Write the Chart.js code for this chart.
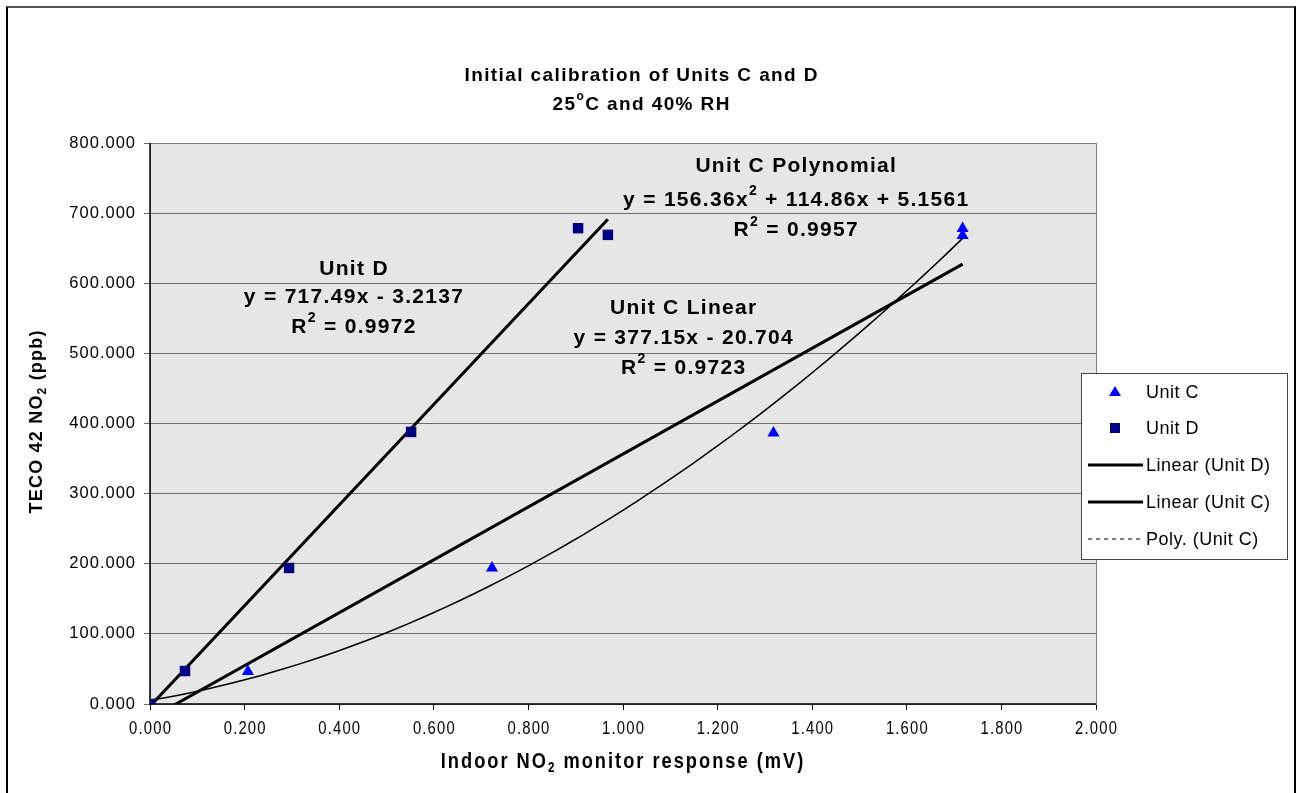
<!DOCTYPE html>
<html>
<head>
<meta charset="utf-8">
<script src="https://cdn.jsdelivr.net/npm/chart.js@4.4.1/dist/chart.umd.min.js"></script>
<style>
  html, body { margin: 0; padding: 0; background: #fff; }
  #wrap { position: relative; width: 1298px; height: 793px; overflow: hidden; }
  #frame { position: absolute; left: 6px; top: 6px; width: 1286px; height: 800px;
           border-left: 2px solid #000; border-right: 2px solid #000; border-top: 2px solid #555; }
  canvas { position: absolute; left: 0; top: 0; }
</style>
</head>
<body>
<div id="wrap">
  <div id="frame"></div>
  <canvas id="c" width="1298" height="793"></canvas>
</div>
<script>
// ---- data ----
const unitCX = [0.000, 0.207, 0.723, 1.318, 1.718, 1.718];
const unitCY = [0.0, 46.5, 194.0, 386.5, 678.0, 668.0];
const unitDX = [0.000, 0.074, 0.294, 0.552, 0.905, 0.968];
const unitDY = [0.0, 47.0, 194.0, 388.0, 678.5, 669.0];

// trendline coefficients as printed on the chart
const linDCoef = [717.49, -3.2137];            // y = a x + b
const linCCoef = [377.15, -20.704];            // y = a x + b
const polyCCoef = [156.36, 114.86, 5.1561];    // y = a x^2 + b x + c

const xTickLabels = ['0.000','0.200','0.400','0.600','0.800','1.000','1.200','1.400','1.600','1.800','2.000'];
const yTickLabels = ['0.000','100.000','200.000','300.000','400.000','500.000','600.000','700.000','800.000'];

const legendLabels = ['Unit C', 'Unit D', 'Linear (Unit D)', 'Linear (Unit C)', 'Poly. (Unit C)'];

// ---- build series ----
const ptsC = unitCX.map((x, i) => ({ x, y: unitCY[i] }));
const ptsD = unitDX.map((x, i) => ({ x, y: unitDY[i] }));
function linePts(coef, x0, x1) {
  return [{ x: x0, y: coef[0] * x0 + coef[1] }, { x: x1, y: coef[0] * x1 + coef[1] }];
}
const xMaxD = Math.max(...unitDX), xMaxC = Math.max(...unitCX);
const trendD = linePts(linDCoef, 0, xMaxD);
const trendC = linePts(linCCoef, 0, xMaxC);
const polyC = [];
for (let k = 0; k <= 60; k++) {
  const x = xMaxC * k / 60;
  polyC.push({ x, y: polyCCoef[0] * x * x + polyCCoef[1] * x + polyCCoef[2] });
}

const FONT = '"Liberation Sans", Arial, sans-serif';

// rich text helper: segments [text, mode] where mode: 'n', 'sup', 'sub'
function richWidth(ctx, segs, size, weight) {
  let w = 0;
  for (const [t, m] of segs) {
    ctx.font = `${weight} ${m === 'n' ? size : Math.round(size * 0.65)}px ${FONT}`;
    w += ctx.measureText(t).width;
  }
  return w;
}
function drawRich(ctx, segs, cx, cy, size, weight, spacing, scaleX) {
  ctx.save();
  ctx.letterSpacing = (spacing || 0) + 'px';
  const sc = scaleX || 1;
  ctx.translate(cx, cy);
  ctx.scale(sc, 1);
  const w = richWidth(ctx, segs, size, weight) - (spacing || 0);
  let x = -w / 2;
  ctx.textBaseline = 'middle';
  ctx.textAlign = 'left';
  ctx.fillStyle = '#000';
  for (const [t, m] of segs) {
    const s = m === 'n' ? size : Math.round(size * 0.65);
    ctx.font = `${weight} ${s}px ${FONT}`;
    const dy = m === 'sup' ? -size * 0.42 : (m === 'sub' ? size * 0.3 : 0);
    ctx.fillText(t, x, dy);
    x += ctx.measureText(t).width;
  }
  ctx.restore();
}

const decorPlugin = {
  id: 'decor',
  beforeDraw(chart) {
    const { ctx, chartArea: a } = chart;
    ctx.save();
    ctx.fillStyle = '#e6e6e6';
    ctx.fillRect(a.left, a.top, a.right - a.left, a.bottom - a.top);
    ctx.restore();
  },
  afterDraw(chart) {
    const { ctx, chartArea: a, scales } = chart;
    const sx = scales.x, sy = scales.y;
    // plot border
    ctx.save();
    ctx.strokeStyle = '#808080';
    ctx.lineWidth = 1;
    ctx.strokeRect(a.left + 0.5, a.top + 0.5, a.right - a.left, a.bottom - a.top);
    ctx.strokeStyle = '#000';
    ctx.lineWidth = 1.5;
    ctx.beginPath();
    ctx.moveTo(a.left, a.top); ctx.lineTo(a.left, a.bottom); ctx.lineTo(a.right, a.bottom);
    ctx.stroke();
    ctx.restore();

    // tick labels (positions from the library's scales)
    ctx.save();
    ctx.fillStyle = '#000';
    ctx.textBaseline = 'middle';
    ctx.textAlign = 'right';
    ctx.font = `16.5px ${FONT}`;
    ctx.letterSpacing = '1px';
    sy.ticks.forEach((t, i) => {
      ctx.fillText(yTickLabels[i], 136, sy.getPixelForValue(t.value));
    });
    ctx.restore();
    sx.ticks.forEach((t, i) => {
      drawRich(ctx, [[xTickLabels[i], 'n']], sx.getPixelForValue(t.value), 729, 19, 'normal', 1.5, 0.78);
    });

    // title
    drawRich(ctx, [['Initial calibration of Units C and D', 'n']], 641, 76, 19, 'bold', 1.4);
    drawRich(ctx, [['25', 'n'], ['o', 'sup'], ['C and 40% RH', 'n']], 641, 105, 19, 'bold', 1.4);

    // axis titles
    drawRich(ctx, [['Indoor NO', 'n'], ['2', 'sub'], [' monitor response (mV)', 'n']], 622, 762, 22, 'bold', 2.4, 0.83);
    ctx.save();
    ctx.translate(37, 422);
    ctx.rotate(-Math.PI / 2);
    drawRich(ctx, [['TECO 42 NO', 'n'], ['2', 'sub'], [' (ppb)', 'n']], 0, 0, 18, 'bold', 1.2);
    ctx.restore();

    // trendline annotations (anchored in data space)
    const ann = [
      [0.430, 620, [['Unit D', 'n']]],
      [0.430, 580, [['y = 717.49x - 3.2137', 'n']]],
      [0.430, 537, [['R', 'n'], ['2', 'sup'], [' = 0.9972', 'n']]],
      [1.365, 767, [['Unit C Polynomial', 'n']]],
      [1.365, 719, [['y = 156.36x', 'n'], ['2', 'sup'], [' + 114.86x + 5.1561', 'n']]],
      [1.365, 675, [['R', 'n'], ['2', 'sup'], [' = 0.9957', 'n']]],
      [1.127, 565, [['Unit C Linear', 'n']]],
      [1.127, 522, [['y = 377.15x - 20.704', 'n']]],
      [1.127, 479, [['R', 'n'], ['2', 'sup'], [' = 0.9723', 'n']]]
    ];
    for (const [x, y, segs] of ann) {
      drawRich(ctx, segs, sx.getPixelForValue(x), sy.getPixelForValue(y), 21, 'bold', 1.3);
    }

    // legend
    const L = { x: 1081, y: 373, w: 206, h: 186 };
    ctx.save();
    ctx.fillStyle = '#fff';
    ctx.fillRect(L.x, L.y, L.w, L.h);
    ctx.strokeStyle = '#444';
    ctx.lineWidth = 1;
    ctx.strokeRect(L.x + 0.5, L.y + 0.5, L.w, L.h);
    const rowsY = [392, 428, 465, 502, 539];
    ctx.font = `18px ${FONT}`;
    ctx.textBaseline = 'middle';
    ctx.fillStyle = '#000';
    ctx.letterSpacing = '0.5px';
    legendLabels.forEach((lab, i) => {
      const yy = rowsY[i];
      if (i === 0) {
        ctx.fillStyle = '#0000ff';
        ctx.beginPath();
        ctx.moveTo(1115, yy - 6); ctx.lineTo(1121, yy + 4); ctx.lineTo(1109, yy + 4); ctx.closePath();
        ctx.fill();
      } else if (i === 1) {
        ctx.fillStyle = '#000080';
        ctx.fillRect(1110, yy - 5, 10, 10);
      } else {
        ctx.strokeStyle = '#000';
        ctx.lineWidth = i === 4 ? 1.2 : 3;
        ctx.setLineDash(i === 4 ? [4, 4] : []);
        ctx.beginPath();
        ctx.moveTo(1088, yy); ctx.lineTo(1143, yy);
        ctx.stroke();
        ctx.setLineDash([]);
      }
      ctx.fillStyle = '#000';
      ctx.fillText(lab, 1146, yy + 1);
    });
    ctx.restore();
  }
};

new Chart(document.getElementById('c'), {
  type: 'scatter',
  data: {
    datasets: [
      { label: legendLabels[2], data: trendD, showLine: true, borderColor: '#000', borderWidth: 3,
        pointRadius: 0, pointHoverRadius: 0, order: 3 },
      { label: legendLabels[3], data: trendC, showLine: true, borderColor: '#000', borderWidth: 3,
        pointRadius: 0, pointHoverRadius: 0, order: 4 },
      { label: legendLabels[4], data: polyC, showLine: true, borderColor: '#000', borderWidth: 1.5,
        pointRadius: 0, pointHoverRadius: 0, tension: 0, order: 5 },
      { label: legendLabels[0], data: ptsC, pointStyle: 'triangle', pointRadius: 7,
        backgroundColor: '#0000ff', borderColor: '#0000ff', borderWidth: 0, order: 1 },
      { label: legendLabels[1], data: ptsD, pointStyle: 'rect', pointRadius: 7.4,
        backgroundColor: '#000080', borderColor: '#000080', borderWidth: 0, order: 2 }
    ]
  },
  options: {
    responsive: false,
    animation: false,
    events: [],
    layout: { padding: { left: 0, top: 143, right: 202, bottom: 0 } },
    plugins: { legend: { display: false }, title: { display: false }, tooltip: { enabled: false } },
    scales: {
      x: {
        type: 'linear', min: 0, max: 2,
        afterFit(s) { s.height = 89; },
        border: { display: false },
        grid: { display: true, drawOnChartArea: false, drawTicks: true, tickLength: 6, color: '#000', lineWidth: 1 },
        ticks: { stepSize: 0.2, display: false }
      },
      y: {
        type: 'linear', min: 0, max: 800,
        afterFit(s) { s.width = 150; },
        border: { display: false },
        grid: { display: true, drawOnChartArea: true, drawTicks: true, tickLength: 6, color: '#6b6b6b', lineWidth: 1 },
        ticks: { stepSize: 100, display: false }
      }
    }
  },
  plugins: [decorPlugin]
});
</script>
</body>
</html>
